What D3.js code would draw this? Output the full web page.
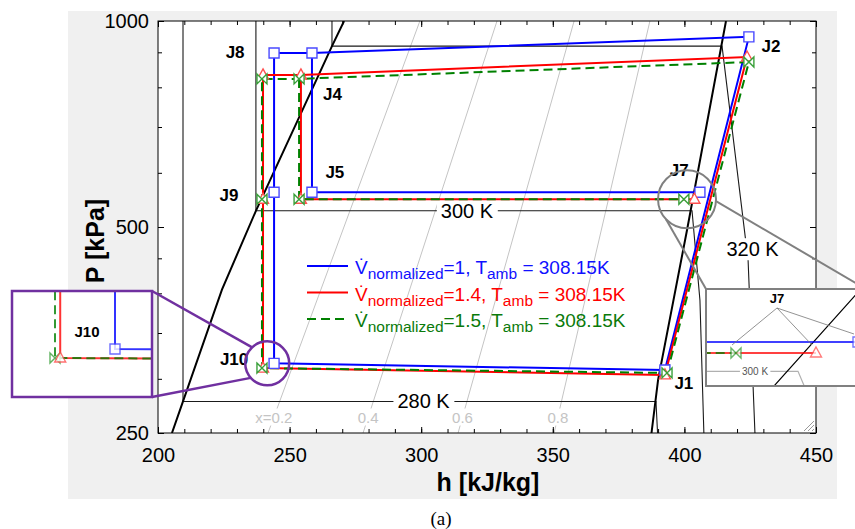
<!DOCTYPE html>
<html lang="en">
<head>
<meta charset="UTF-8">
<title>P-h diagram</title>
<script src="https://d3js.org/d3.v7.min.js"></script>
<style>
  body{margin:0;background:#fff;}
  svg text{font-family:Arial,"Liberation Sans",sans-serif;}
  .axis path{display:none;}
  .axis line{stroke:#000;}
  .axis text{font-size:20px;fill:#000;font-family:Arial,"Liberation Sans",sans-serif;}
  .jlab{font-weight:bold;font-size:17px;}
</style>
</head>
<body>
<svg class="chart" width="855" height="529"></svg>
<script>
// axis ticks
const hTicks=[200,250,300,350,400,450];
const pTicks=[250,500,1000];
const pMinor=[300,350,400,450,600,700,800,900];

// saturation dome (h kJ/kg, P kPa)
const satLiquid=[[205.3,250],[209.5,278],[224.3,405],[237.2,528],[266.1,919],[270.7,1000]];
const satVapor=[[387.5,250],[390.0,299],[401.0,495],[415.8,1000]];

// isotherms
const iso280=[[209.5,1000],[209.5,278],[389.2,278],[389.8,250]];
const iso300=[[237.2,1000],[237.2,528],[402.9,528],[405.9,391],[407.4,250]];
const iso320=[[266.1,1000],[266.1,919],[414.3,919],[424.2,447],[426.8,250]];
const isoNames=["280 K","300 K","320 K"];
const isoLabelAt=[[300.9,278],[317.4,528],[425.9,464]];

// quality lines (h at 250 kPa and at 1000 kPa)
const qualityNames=["x=0.2","0.4","0.6","0.8"];
const qualityBottom=[241.8,277.9,314.0,350.5];
const qualityTop=[299.5,328.8,358.1,386.9];
const qualityLabelP=263.8;

// cycle state points
const states=["J1","J2","J4","J8","J9","J10","J5","J7"];
const hV1=[392.6,424.5,258.5,244.1,244.1,244.1,258.5,405.9];
const pV1=[309,948,898,898,562,316,562,562];
const hV14=[392.6,423.8,254.3,239.9,239.9,239.9,254.3,403.8];
const pV14=[304,886,834,834,549,311,549,549];
const hV15=[393.4,424.5,253.6,239.5,239.5,239.5,253.6,399.8];
const pV15=[306,871,823,823,549,311,549,549];
const vNorm=["1","1.4","1.5"];
const tAmb="308.15K";

// state label anchors
const jLabels=[["J8",229.3,900],["J4",266.3,781],["J5",267.2,601],["J9",227.0,555],
               ["J7",398.0,604],["J2",432.9,918],["J1",399.8,295],["J10",228.9,320]];

const loopIdx=[0,1,2,3,4,5,0];
const branchIdx=[2,6,7];

let margin={top:21,left:158};
let width=658,height=412;

let x=d3.scaleLinear().domain([200,450]).range([0,width]);
let y=d3.scaleLog().domain([250,1000]).range([height,0]);

let svg=d3.select('.chart');

// grey panel + plot area
svg.append('rect').attr('x',68).attr('y',11).attr('width',769).attr('height',488).attr('fill','#f0f0f0');
svg.append('rect').attr('x',margin.left).attr('y',margin.top).attr('width',width).attr('height',height).attr('fill','#fff');

let defs=svg.append('defs');
defs.append('clipPath').attr('id','plotClip').append('rect').attr('width',width).attr('height',height);

let chart=svg.append('g').attr('transform','translate('+margin.left+','+margin.top+')');
let plot=chart.append('g').attr('clip-path','url(#plotClip)');

let line=d3.line().x(d=>x(d[0])).y(d=>y(d[1]));

function bgLabel(g,text,px,py,size,color,pad){
  let t=g.append('text').attr('x',px).attr('y',py)
    .attr('text-anchor','middle').attr('dominant-baseline','central')
    .style('font-size',size+'px').attr('fill',color).text(text);
  let b=t.node().getBBox();
  g.insert('rect',()=>t.node()).attr('x',b.x-pad).attr('y',b.y)
    .attr('width',b.width+2*pad).attr('height',b.height).attr('fill','#fff');
}

// quality lines
qualityNames.forEach((q,i)=>{
  let pts=[[qualityBottom[i],250],[qualityTop[i],1000]];
  plot.append('path').attr('d',line(pts)).attr('fill','none').attr('stroke','#c4c4c4').attr('stroke-width',1);
  let f=Math.log(qualityLabelP/250)/Math.log(4);
  let hq=qualityBottom[i]+f*(qualityTop[i]-qualityBottom[i]);
  bgLabel(plot,q,x(hq),y(qualityLabelP),15,'#c4c4c4',2);
});

// isotherms
[iso280,iso300,iso320].forEach((iso,i)=>{
  plot.append('path').attr('d',line(iso)).attr('fill','none').attr('stroke','#1a1a1a').attr('stroke-width',1.1);
});
isoNames.forEach((n,i)=>{
  bgLabel(plot,n,x(isoLabelAt[i][0]),y(isoLabelAt[i][1]),20,'#000',4);
});

// saturation dome
[satLiquid,satVapor].forEach(d=>{
  plot.append('path').attr('d',line(d)).attr('fill','none').attr('stroke','#000').attr('stroke-width',2);
});

// cycle series
let series=[
  {h:hV1,p:pV1,color:'#0000ff',mark:'#4a4aff',text:'#1010ff',shape:'M-5,-5H5V5H-5Z',dash:null},
  {h:hV14,p:pV14,color:'#ff0000',mark:'#ff5050',text:'#ff0000',shape:'M0,-6L5.5,4L-5.5,4Z',dash:null},
  {h:hV15,p:pV15,color:'#008000',mark:'#3aa03a',text:'#0a7a0a',shape:'M-5,-5L5,5L5,-5L-5,5Z',dash:'9,5'}
];

function drawSeries(g,sx,sy,s,alpha){
  let ln=d3.line().x(i=>sx(s.h[i])).y(i=>sy(s.p[i]));
  [loopIdx,branchIdx].forEach(idx=>{
    g.append('path').attr('d',ln(idx)).attr('fill','none').attr('stroke',s.color)
      .attr('stroke-width',2).attr('stroke-dasharray',s.dash).attr('opacity',alpha);
  });
}
function drawMarks(g,sx,sy,s,alpha){
  g.selectAll(null).data(states.map((n,i)=>i)).enter().append('path')
    .attr('d',s.shape).attr('transform',i=>'translate('+sx(s.h[i])+','+sy(s.p[i])+')')
    .attr('fill','#fff').attr('stroke',s.mark).attr('stroke-width',1.4).attr('opacity',alpha);
}
series.forEach(s=>drawSeries(plot,x,y,s,1));
series.forEach(s=>drawMarks(plot,x,y,s,1));

// state labels
chart.selectAll('.jlab').data(jLabels).enter().append('text').attr('class','jlab')
  .attr('x',d=>x(d[1])).attr('y',d=>y(d[2])).attr('text-anchor','middle')
  .attr('dominant-baseline','central').text(d=>d[0]);

// legend
let legend=svg.append('g');
series.forEach((s,i)=>{
  let ly=266+i*26.5;
  legend.append('line').attr('x1',307).attr('x2',348).attr('y1',ly).attr('y2',ly)
    .attr('stroke',s.color).attr('stroke-width',2).attr('stroke-dasharray',s.dash);
  let t=legend.append('text').attr('x',355).attr('y',ly+8).attr('fill',s.text).style('font-size','19px');
  t.append('tspan').text('V\u0307');
  t.append('tspan').attr('dy',5).style('font-size','15.5px').text('normalized');
  t.append('tspan').attr('dy',-5).text('='+vNorm[i]+', T');
  t.append('tspan').attr('dy',5).style('font-size','15.5px').text('amb');
  t.append('tspan').attr('dy',-5).text(' = '+tAmb);
});

// axes
let axes=chart.append('g');
axes.append('g').attr('class','axis').attr('transform','translate(0,'+height+')')
  .call(d3.axisBottom(x).tickValues(hTicks).tickSizeInner(-6).tickSizeOuter(0).tickPadding(15));
axes.append('g').attr('class','axis').attr('transform','translate(0,'+height+')')
  .call(d3.axisBottom(x).ticks(25).tickFormat('').tickSizeInner(-4).tickSizeOuter(0));
axes.append('g').attr('class','axis')
  .call(d3.axisTop(x).tickValues(hTicks).tickFormat('').tickSizeInner(-6).tickSizeOuter(0));
axes.append('g').attr('class','axis')
  .call(d3.axisTop(x).ticks(25).tickFormat('').tickSizeInner(-4).tickSizeOuter(0));
axes.append('g').attr('class','axis')
  .call(d3.axisLeft(y).tickValues(pTicks).tickFormat(d3.format('d')).tickSizeInner(-6).tickSizeOuter(0).tickPadding(9));
axes.append('g').attr('class','axis')
  .call(d3.axisLeft(y).tickValues(pMinor).tickFormat('').tickSizeInner(-4).tickSizeOuter(0));
axes.append('g').attr('class','axis').attr('transform','translate('+width+',0)')
  .call(d3.axisRight(y).tickValues(pTicks).tickFormat('').tickSizeInner(-6).tickSizeOuter(0));
axes.append('g').attr('class','axis').attr('transform','translate('+width+',0)')
  .call(d3.axisRight(y).tickValues(pMinor).tickFormat('').tickSizeInner(-4).tickSizeOuter(0));
chart.append('rect').attr('width',width).attr('height',height).attr('fill','none').attr('stroke','#000').attr('stroke-width',1);

// resize grip
[0,4,8].forEach(o=>{
  svg.append('line').attr('x1',804+o).attr('y1',431).attr('x2',814).attr('y2',421+o)
    .attr('stroke','#999').attr('stroke-width',1);
});

// axis titles
svg.append('text').attr('x',488).attr('y',491).attr('text-anchor','middle')
  .style('font-weight','bold').style('font-size','25px').text('h [kJ/kg]');
svg.append('text').attr('transform','translate(104,241) rotate(-90)').attr('text-anchor','middle')
  .style('font-weight','bold').style('font-size','25px').text('P [kPa]');
svg.append('text').attr('x',441).attr('y',525).attr('text-anchor','middle')
  .style('font-family','"Times New Roman","Liberation Serif",serif').style('font-size','19px').text('(a)');

// zoom circle + inset around J10
function circlePt(cx,cy,r,deg){let a=deg*Math.PI/180;return [cx+r*Math.cos(a),cy+r*Math.sin(a)];}
let purple='#7030a0';
let c1={cx:x(241.5)+margin.left,cy:y(316)+margin.top,r:22};
let box1={x:12,y:291,w:140,h:106};
svg.append('circle').attr('cx',c1.cx).attr('cy',c1.cy).attr('r',c1.r).attr('fill','none').attr('stroke',purple).attr('stroke-width',2.5);
[[box1.x+box1.w,box1.y,226.7],[box1.x+box1.w,box1.y+box1.h,138.7]].forEach(d=>{
  let p=circlePt(c1.cx,c1.cy,c1.r,d[2]);
  svg.append('line').attr('x1',d[0]).attr('y1',d[1]).attr('x2',p[0]).attr('y2',p[1]).attr('stroke',purple).attr('stroke-width',2.5);
});
defs.append('clipPath').attr('id','clip1').append('rect').attr('x',box1.x).attr('y',box1.y).attr('width',box1.w).attr('height',box1.h);
svg.append('rect').attr('x',box1.x).attr('y',box1.y).attr('width',box1.w).attr('height',box1.h).attr('fill','#fff');
let in1=svg.append('g').attr('clip-path','url(#clip1)');
let ix1=d3.scaleLinear().domain([239.5,244.1]).range([55,115]);
let iy1=d3.scaleLog().domain([311,316]).range([358,349]);
series.forEach(s=>drawSeries(in1,ix1,iy1,s,0.8));
series.slice().reverse().forEach(s=>drawMarks(in1,ix1,iy1,s,0.8));
in1.append('text').attr('x',87).attr('y',331).attr('text-anchor','middle').attr('dominant-baseline','central')
  .style('font-weight','bold').style('font-size','15px').text('J10');
svg.append('rect').attr('x',box1.x).attr('y',box1.y).attr('width',box1.w).attr('height',box1.h)
  .attr('fill','none').attr('stroke',purple).attr('stroke-width',2.5);

// zoom circle + inset around J7
let grey='#808080';
let c2={cx:x(401.0)+margin.left,cy:y(549)+margin.top,r:29};
let box2={x:706,y:289,w:160,h:97};
svg.append('circle').attr('cx',c2.cx).attr('cy',c2.cy).attr('r',c2.r).attr('fill','none').attr('stroke',grey).attr('stroke-width',2);
[[box2.x,box2.y,136.5],[box2.x+box2.w,box2.y,4]].forEach(d=>{
  let p=circlePt(c2.cx,c2.cy,c2.r,d[2]);
  svg.append('line').attr('x1',d[0]).attr('y1',d[1]).attr('x2',p[0]).attr('y2',p[1]).attr('stroke',grey).attr('stroke-width',2);
});
defs.append('clipPath').attr('id','clip2').append('rect').attr('x',box2.x).attr('y',box2.y).attr('width',box2.w).attr('height',box2.h);
svg.append('rect').attr('x',box2.x).attr('y',box2.y).attr('width',box2.w).attr('height',box2.h).attr('fill','#fff');
let in2=svg.append('g').attr('clip-path','url(#clip2)');
let ix2=d3.scaleLinear().domain([399.8,405.9]).range([736,858]);
let iy2=d3.scaleLog().domain([549,562]).range([353,342]);
let iline=d3.line().x(d=>ix2(d[0])).y(d=>iy2(d[1]));
in2.append('path').attr('d',iline(iso300)).attr('fill','none').attr('stroke','#b0b0b0').attr('stroke-width',1.2);
bgLabel(in2,isoNames[1],ix2(400.75),iy2(528),10,'#555',2);
in2.append('path').attr('d',iline(satVapor)).attr('fill','none').attr('stroke','#000').attr('stroke-width',1.2);
series.forEach(s=>drawSeries(in2,ix2,iy2,s,0.75));
series.forEach(s=>drawMarks(in2,ix2,iy2,s,0.75));
let apex=[777,308];
series.forEach(s=>{
  in2.append('line').attr('x1',apex[0]).attr('y1',apex[1])
    .attr('x2',ix2(s.h[7])-4).attr('y2',iy2(s.p[7])-8).attr('stroke','#777').attr('stroke-width',0.8);
});
in2.append('text').attr('x',apex[0]).attr('y',apex[1]-10).attr('text-anchor','middle').attr('dominant-baseline','central')
  .style('font-weight','bold').style('font-size','13px').text('J7');
svg.append('rect').attr('x',box2.x).attr('y',box2.y).attr('width',box2.w).attr('height',box2.h)
  .attr('fill','none').attr('stroke',grey).attr('stroke-width',2);
</script>
</body>
</html>
